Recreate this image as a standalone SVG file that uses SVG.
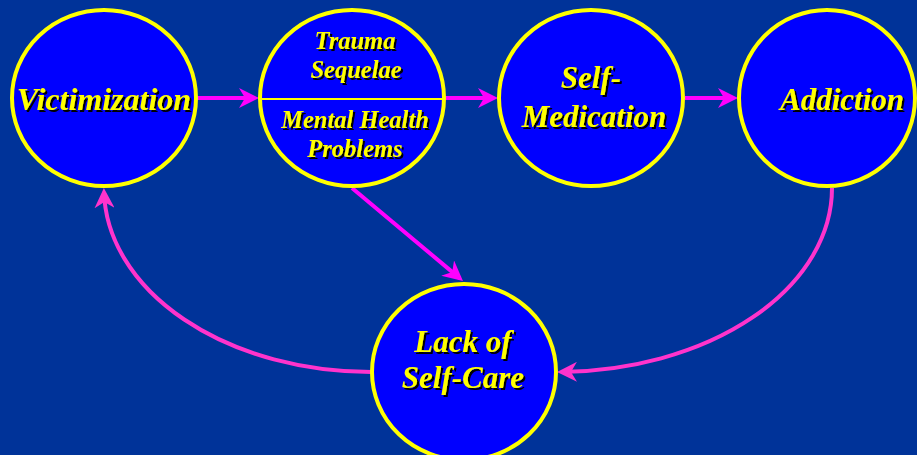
<svg xmlns="http://www.w3.org/2000/svg" width="917" height="455" viewBox="0 0 917 455">
<defs>
<style>
.node{fill:#0000FF;stroke:#FFFF00;stroke-width:4}
.lbl{font-family:"Liberation Serif","Times New Roman",serif;font-weight:bold;font-style:italic;fill:#FFFF00;text-anchor:middle;filter:url(#sh)}
.big{font-size:31px}
.small{font-size:24.5px}
.conn{fill:none;stroke:#FF00FF;stroke-width:4}
.curve{fill:none;stroke:#FF33CC;stroke-width:4}
</style>
<filter id="sh" x="-10%" y="-30%" width="130%" height="160%">
<feDropShadow dx="2" dy="2" stdDeviation="0" flood-color="#000000" flood-opacity="1"/>
</filter>
<marker id="ah" markerUnits="userSpaceOnUse" viewBox="0 0 20 20" refX="16" refY="10" markerWidth="20" markerHeight="20" orient="auto">
<path d="M0,0 L20,10 L0,20 L6,10 Z" fill="#FF00FF"/>
</marker>
<marker id="ahp" markerUnits="userSpaceOnUse" viewBox="0 0 20 20" refX="16" refY="10" markerWidth="20" markerHeight="20" orient="auto">
<path d="M0,0 L20,10 L0,20 L6,10 Z" fill="#FF33CC"/>
</marker>
</defs>
<rect x="0" y="0" width="917" height="455" fill="#003399"/>
<g id="connectors">
<path class="conn" d="M197,98 H255" marker-end="url(#ah)"/>
<path class="conn" d="M445,98 H494" marker-end="url(#ah)"/>
<path class="conn" d="M685,98 H734" marker-end="url(#ah)"/>
<path class="conn" d="M352,188 L459.9,278.4" marker-end="url(#ah)"/>
<path class="curve" d="M832,188 A275,184 0 0 1 561,372" marker-end="url(#ahp)"/>
<path class="curve" d="M371,372 A267,184 0 0 1 104,192" marker-end="url(#ahp)"/>
</g>
<g id="victimization">
<ellipse class="node" cx="104" cy="98" rx="92" ry="88"/>
<text class="lbl big" x="104" y="110" style="font-size:32px">Victimization</text>
</g>
<g id="trauma">
<ellipse class="node" cx="352" cy="98" rx="92" ry="88"/>
<line x1="262" y1="99" x2="443" y2="99" stroke="#FFFF00" stroke-width="2"/>
<text class="lbl small" x="355" y="49">Trauma</text>
<text class="lbl small" x="356" y="78">Sequelae</text>
<text class="lbl small" x="355" y="128">Mental Health</text>
<text class="lbl small" x="355" y="157">Problems</text>
</g>
<g id="selfmedication">
<ellipse class="node" cx="591" cy="98" rx="92" ry="88"/>
<text class="lbl big" x="591" y="88">Self-</text>
<text class="lbl big" x="594" y="127">Medication</text>
</g>
<g id="addiction">
<ellipse class="node" cx="827" cy="98" rx="88" ry="88"/>
<text class="lbl big" x="842" y="110">Addiction</text>
</g>
<g id="lackofselfcare">
<ellipse class="node" cx="464" cy="372" rx="92" ry="88"/>
<text class="lbl big" x="463" y="352">Lack of</text>
<text class="lbl big" x="463" y="388">Self-Care</text>
</g>
</svg>
